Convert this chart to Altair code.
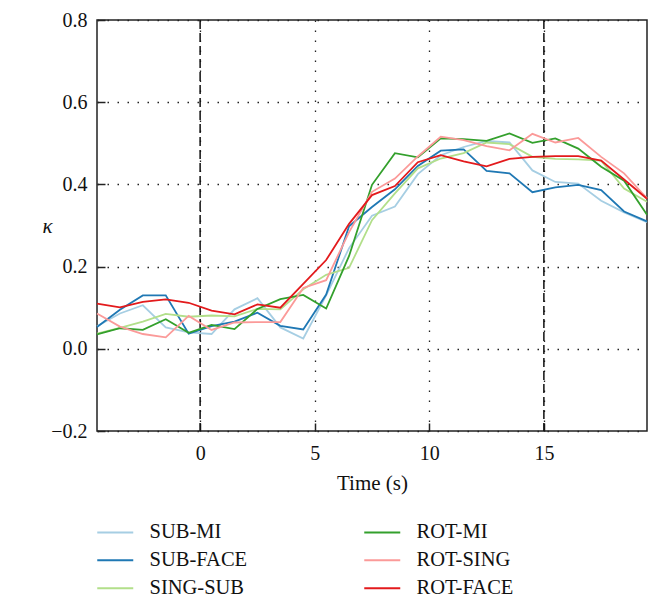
import altair as alt
import pandas as pd

# Time points (s)
times = [-4.5 + i for i in range(25)]

series_names = ["SUB-MI", "SUB-FACE", "SING-SUB", "ROT-MI", "ROT-SING", "ROT-FACE"]
series_colors = ["#a6cee3", "#1f78b4", "#b2df8a", "#33a02c", "#fb9a99", "#e31a1c"]

sub_mi = [0.055, 0.086, 0.106, 0.052, 0.040, 0.036, 0.096, 0.123, 0.052, 0.025,
          0.130, 0.245, 0.324, 0.346, 0.425, 0.471, 0.491, 0.506, 0.502, 0.434,
          0.406, 0.402, 0.360, 0.332, 0.308]
sub_face = [0.053, 0.095, 0.130, 0.130, 0.037, 0.055, 0.066, 0.088, 0.056, 0.047,
            0.132, 0.298, 0.345, 0.388, 0.445, 0.482, 0.485, 0.433, 0.427, 0.381,
            0.393, 0.399, 0.386, 0.334, 0.310]
sing_sub = [0.037, 0.051, 0.066, 0.085, 0.078, 0.081, 0.079, 0.097, 0.096, 0.145,
            0.180, 0.197, 0.313, 0.378, 0.439, 0.463, 0.476, 0.502, 0.498, 0.467,
            0.462, 0.461, 0.458, 0.390, 0.358]
rot_mi = [0.035, 0.050, 0.046, 0.072, 0.039, 0.058, 0.048, 0.097, 0.121, 0.131,
          0.098, 0.226, 0.399, 0.476, 0.466, 0.512, 0.510, 0.506, 0.524, 0.501,
          0.512, 0.487, 0.443, 0.409, 0.326]
rot_sing = [0.086, 0.054, 0.036, 0.028, 0.080, 0.046, 0.064, 0.065, 0.065, 0.148,
            0.167, 0.284, 0.382, 0.414, 0.468, 0.516, 0.508, 0.493, 0.483, 0.523,
            0.502, 0.513, 0.467, 0.427, 0.366]
rot_face = [0.110, 0.101, 0.114, 0.120, 0.112, 0.093, 0.084, 0.108, 0.100, 0.158,
            0.216, 0.304, 0.374, 0.396, 0.454, 0.471, 0.456, 0.444, 0.462, 0.467,
            0.469, 0.469, 0.458, 0.412, 0.365]

event_times = [0, 15]
x_ticks = [0, 5, 10, 15]
y_ticks = [-0.2, 0.0, 0.2, 0.4, 0.6, 0.8]

all_values = [sub_mi, sub_face, sing_sub, rot_mi, rot_sing, rot_face]
rows = []
for k, (name, vals) in enumerate(zip(series_names, all_values)):
    for t, v in zip(times, vals):
        rows.append({"time": t, "kappa": v, "series": name, "k": k})
df = pd.DataFrame(rows)

FONT = "Liberation Serif"

lines = alt.Chart(df).mark_line(strokeWidth=1.8).encode(
    x=alt.X("time:Q",
            scale=alt.Scale(domain=[-4.5, 19.5], nice=False, zero=False),
            axis=alt.Axis(values=x_ticks, title="Time (s)", format="d",
                          offset=-8, tickSize=8, labelPadding=12,
                          titlePadding=9)),
    y=alt.Y("kappa:Q",
            scale=alt.Scale(domain=[-0.2, 0.8], nice=False, zero=False),
            axis=alt.Axis(values=y_ticks, format=".1f", title="κ",
                          offset=-8, tickSize=8, labelPadding=10,
                          titleAngle=0, titleX=-58, titleY=206,
                          titleAlign="center", titleBaseline="middle",
                          titleFontStyle="italic")),
    color=alt.Color("series:N",
                    scale=alt.Scale(domain=series_names, range=series_colors),
                    legend=alt.Legend(
                        title=None, orient="none", legendX=8, legendY=502,
                        columns=2, columnPadding=112, rowPadding=7,
                        symbolType="M-2,0H2", symbolSize=324,
                        symbolStrokeWidth=2, labelOffset=24,
                        labelFontSize=20.5, labelFont=FONT, labelLimit=300,
                        labelColor="#111111", padding=0)),
    detail="k:N",
    order="k:Q",
)

rules = alt.Chart(pd.DataFrame({"t": event_times})).mark_rule(
    color="#111111", strokeWidth=1.5, strokeDash=[9, 4]
).encode(x="t:Q")

chart = alt.layer(rules, lines).properties(
    width=550, height=411,
    autosize=alt.AutoSizeParams(type="none"),
    padding={"left": 89, "top": 12, "right": 7, "bottom": 180},
).configure_view(
    stroke="#222222", strokeWidth=1.5
).configure_axis(
    domain=False,
    grid=True, gridColor="#222222", gridDash=[1.5, 8.5], gridWidth=1.3,
    tickColor="#222222", tickWidth=1.5,
    labelFont=FONT, labelFontSize=20, labelColor="#111111",
    titleFont=FONT, titleFontSize=21, titleFontWeight="normal", titleColor="#111111",
)

chart.save("out.html", embed_options={"renderer": "svg", "actions": False})
